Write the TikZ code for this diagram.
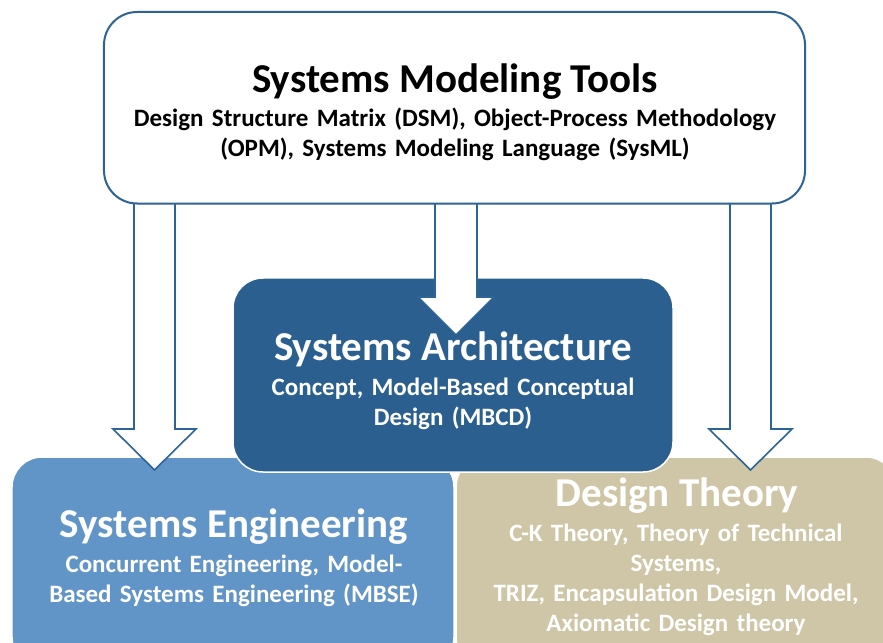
\documentclass[tikz,border=0pt]{standalone}
\usepackage{fontspec}
\setmainfont{Carlito}
\definecolor{ablue}{RGB}{46,99,150}
\definecolor{archfill}{RGB}{42,95,143}
\definecolor{sefill}{RGB}{97,148,199}
\definecolor{dtfill}{RGB}{207,198,167}
\newcommand\blockarr[6]{% name, x centre, shaft half width, head half width, head base y, tip y
  \coordinate (#1s) at (#2,190);
  \coordinate (#1t) at (#2,#6);
  \draw[barrow] ($(#1s)+(-#3,0)$) -- ($(#1s)+(-#3,#5-190)$) -- ($(#1s)+(-#4,#5-190)$) -- (#1t)
     -- ($(#1s)+(#4,#5-190)$) -- ($(#1s)+(#3,#5-190)$) -- ($(#1s)+(#3,0)$);}
\usetikzlibrary{calc}
\begin{document}
\begin{tikzpicture}[x=1bp,y=-1bp,
  box/.style={rounded corners=30bp, inner sep=0pt, outer sep=0pt},
  cbox/.style={box, draw=white, line width=1.5bp},
  ttl/.style={anchor=base, inner sep=0pt, font=\bfseries\fontsize{41bp}{46bp}\selectfont},
  sub/.style={anchor=base, inner sep=0pt, text width=#1, align=center, font=\bfseries\fontsize{25bp}{30bp}\selectfont},
  barrow/.style={fill=white, draw=ablue, line width=1.6bp, line join=miter}]
\useasboundingbox (0,0) rectangle (883,643);
\clip (0,0) rectangle (883,643);
% lower boxes
\node[cbox, fill=sefill, minimum width=442bp, minimum height=210bp] (se) at (233,562) {};
\node[cbox, fill=dtfill, minimum width=440bp, minimum height=210bp] (dt) at (676,562) {};
% middle box
\node[cbox, fill=archfill, minimum width=440bp, minimum height=194bp] (arch) at (453,375) {};
% arrows
\blockarr{la}{154.5}{20.5}{41.5}{429}{470}
\blockarr{ma}{456}{21}{38}{297}{335}
\blockarr{ra}{750.5}{20.5}{41.5}{429}{470}
% top box
\node[box, rounded corners=33bp, fill=white, draw=ablue, line width=2bp, minimum width=701bp, minimum height=191.5bp] (top) at (454.5,107.75) {};
% texts
\node[ttl] (toptitle) at (455,93) {Systems Modeling Tools};
\node[sub=700bp] (topsub) at (455,127) {Design Structure Matrix (DSM), Object-Process Methodology\\(OPM), Systems Modeling Language (SysML)};
\node[ttl, text=white] (archtitle) at (453,360) {Systems Architecture};
\node[sub=430bp, text=white] (archsub) at (453,395) {Concept, Model-Based Conceptual\\Design (MBCD)};
\node[ttl, text=white] (setitle) at (234,537) {Systems Engineering};
\node[sub=430bp, text=white] (sesub) at (234,572) {Concurrent Engineering, Model-\\Based Systems Engineering (MBSE)};
\node[ttl, text=white] (dttitle) at (677,506) {Design Theory};
\node[sub=430bp, text=white] (dtsub) at (676,541) {C-K Theory, Theory of Technical\\Systems,\\TRIZ, Encapsulation Design Model,\\Axiomatic Design theory};
\end{tikzpicture}
\end{document}
